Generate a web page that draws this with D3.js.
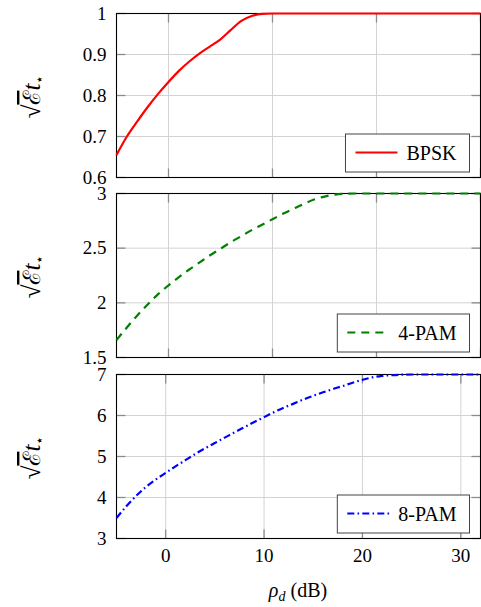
<!DOCTYPE html>
<html>
<head>
<meta charset="utf-8">
<script src="https://cdn.jsdelivr.net/npm/d3@7"></script>
<style>
  html, body { margin: 0; padding: 0; background: #fff; }
  svg { display: block; }
</style>
</head>
<body>
<svg id="chart" width="481" height="607"></svg>
<script>
// ---------------- data ----------------
const xTicks = [0, 10, 20, 30];

const bpskSnr   = [-5, -4, -3, -2, -1, 0, 1, 2, 3, 4, 5, 6, 7, 8, 9, 10, 30];
const bpskValue = [0.655, 0.70, 0.737, 0.772, 0.804, 0.833, 0.86, 0.883, 0.903, 0.92, 0.937, 0.96, 0.982, 0.994, 0.999, 1, 1];

const pam4Snr   = [-5, -4, -3, -2, -1, 0, 1, 2, 3, 4, 5, 6, 7, 8, 9, 10, 11, 12, 13, 14, 15, 16, 17, 18, 30];
const pam4Value = [1.66, 1.775, 1.885, 1.985, 2.08, 2.16, 2.235, 2.305, 2.37, 2.435, 2.495, 2.555, 2.61, 2.665, 2.715, 2.765, 2.815, 2.86, 2.905, 2.945, 2.972, 2.99, 2.998, 3, 3];

const pam8Snr   = [-5, -4, -3, -2, -1, 0, 1, 2, 3, 4, 5, 6, 7, 8, 9, 10, 11, 12, 13, 14, 15, 16, 17, 18, 19, 20, 21, 22, 23, 24, 25, 32];
const pam8Value = [3.50, 3.785, 4.04, 4.26, 4.44, 4.60, 4.76, 4.91, 5.06, 5.20, 5.33, 5.46, 5.59, 5.715, 5.84, 5.96, 6.08, 6.19, 6.29, 6.39, 6.48, 6.565, 6.645, 6.72, 6.80, 6.87, 6.93, 6.965, 6.985, 6.995, 7, 7];

const yTicks1 = [0.6, 0.7, 0.8, 0.9, 1];
const yTicks2 = [1.5, 2, 2.5, 3];
const yTicks3 = [3, 4, 5, 6, 7];

const yTickLabels1 = ["0.6", "0.7", "0.8", "0.9", "1"];
const yTickLabels2 = ["1.5", "2", "2.5", "3"];
const yTickLabels3 = ["3", "4", "5", "6", "7"];

const seriesNames = ["BPSK", "4-PAM", "8-PAM"];

// ---------------- layout ----------------
const svg = d3.select("#chart");
const FONT = '"Times New Roman"';
const left = 116.5, right = 480.5;

const panels = [
  { name: seriesNames[0], xs: bpskSnr, ys: bpskValue, xDomain: [-5, 30], yDomain: [0.6, 1],
    yTicks: yTicks1, yLabels: yTickLabels1, top: 13.5, bottom: 177.5,
    color: "#ff0000", dash: null, width: 2.2, showX: false },
  { name: seriesNames[1], xs: pam4Snr, ys: pam4Value, xDomain: [-5, 30], yDomain: [1.5, 3],
    yTicks: yTicks2, yLabels: yTickLabels2, top: 193.5, bottom: 357.5,
    color: "#008000", dash: "8,6", width: 2.2, showX: false },
  { name: seriesNames[2], xs: pam8Snr, ys: pam8Value, xDomain: [-5, 32], yDomain: [3, 7],
    yTicks: yTicks3, yLabels: yTickLabels3, top: 374.5, bottom: 538.5,
    color: "#0000ff", dash: "7,3.2,1.6,3.2", width: 2.2, showX: true }
];

panels.forEach(p => {
  const x = d3.scaleLinear().domain(p.xDomain).range([left, right]);
  const y = d3.scaleLinear().domain(p.yDomain).range([p.bottom, p.top]);
  const g = svg.append("g");

  // grid
  g.selectAll(".gx").data(xTicks.filter(t => t > p.xDomain[0] && t < p.xDomain[1]))
    .enter().append("line")
    .attr("x1", d => x(d)).attr("x2", d => x(d))
    .attr("y1", p.top).attr("y2", p.bottom)
    .attr("stroke", "#d3d3d3").attr("stroke-width", 1);
  g.selectAll(".gy").data(p.yTicks.filter(t => t > p.yDomain[0] && t < p.yDomain[1]))
    .enter().append("line")
    .attr("x1", left).attr("x2", right)
    .attr("y1", d => y(d)).attr("y2", d => y(d))
    .attr("stroke", "#d3d3d3").attr("stroke-width", 1);

  // inner ticks (both sides)
  const tl = 9;
  const xt = xTicks.filter(t => t >= p.xDomain[0] && t <= p.xDomain[1]);
  xt.forEach(t => {
    g.append("line").attr("x1", x(t)).attr("x2", x(t)).attr("y1", p.bottom).attr("y2", p.bottom - tl)
      .attr("stroke", "#8c8c8c").attr("stroke-width", 1.3);
    g.append("line").attr("x1", x(t)).attr("x2", x(t)).attr("y1", p.top).attr("y2", p.top + tl)
      .attr("stroke", "#8c8c8c").attr("stroke-width", 1.3);
  });
  p.yTicks.forEach(t => {
    g.append("line").attr("x1", left).attr("x2", left + tl).attr("y1", y(t)).attr("y2", y(t))
      .attr("stroke", "#8c8c8c").attr("stroke-width", 1.3);
    g.append("line").attr("x1", right).attr("x2", right - tl).attr("y1", y(t)).attr("y2", y(t))
      .attr("stroke", "#8c8c8c").attr("stroke-width", 1.3);
  });

  // frame
  g.append("rect").attr("x", left).attr("y", p.top)
    .attr("width", right - left).attr("height", p.bottom - p.top)
    .attr("fill", "none").attr("stroke", "#000").attr("stroke-width", 1.1);

  // y tick labels
  g.selectAll(".yl").data(p.yTicks).enter().append("text")
    .style("font-family", FONT)
    .attr("x", left - 10).attr("y", d => y(d))
    .attr("dy", "0.33em")
    .attr("text-anchor", "end")
    .attr("font-size", 19)
    .text((d, i) => p.yLabels[i]);

  // x tick labels
  if (p.showX) {
    g.selectAll(".xl").data(xTicks).enter().append("text")
      .style("font-family", FONT)
      .attr("x", d => x(d)).attr("y", p.bottom + 23)
      .attr("text-anchor", "middle")
      .attr("font-size", 19)
      .text(d => d);
  }

  // y axis label
  const cy = (p.top + p.bottom) / 2 + 1;
  const lab = g.append("text")
    .style("font-family", FONT)
    .attr("transform", `translate(40,${cy}) rotate(-90)`)
    .attr("text-anchor", "middle")
    .attr("font-size", 25);
  lab.append("tspan").text("√");
  lab.append("tspan").style("text-decoration", "overline").attr("font-size", 24).text("ℰ");
  lab.append("tspan").attr("font-style", "italic").text("t");
  lab.append("tspan").attr("font-size", 14).attr("dy", 4).text("⋆");

  // data line
  const pts = p.xs.map((v, i) => [v, p.ys[i]]);
  const line = d3.line().x(d => x(d[0])).y(d => y(d[1])).curve(d3.curveMonotoneX);
  g.append("path").datum(pts)
    .attr("d", line)
    .attr("fill", "none")
    .attr("stroke", p.color)
    .attr("stroke-width", p.width)
    .attr("stroke-dasharray", p.dash)
    .attr("stroke-linejoin", "round");

  // legend
  const lg = g.append("g");
  const ly = p.bottom - 24.5;
  const txt = lg.append("text").style("font-family", FONT)
    .attr("font-size", 20).attr("y", ly + 6.5).text(p.name);
  const tw = txt.node().getComputedTextLength();
  const boxRight = right - 11;
  const boxLeft = boxRight - (10 + 42 + 9 + tw + 13);
  const boxTop = p.bottom - 43.5, boxBottom = p.bottom - 5.5;
  lg.insert("rect", "text").attr("x", boxLeft).attr("y", boxTop)
    .attr("width", boxRight - boxLeft).attr("height", boxBottom - boxTop)
    .attr("fill", "#fff").attr("stroke", "#444").attr("stroke-width", 1);
  lg.append("line").attr("x1", boxLeft + 10).attr("x2", boxLeft + 52)
    .attr("y1", ly - 0.5).attr("y2", ly - 0.5)
    .attr("stroke", p.color).attr("stroke-width", p.width)
    .attr("stroke-dasharray", p.dash);
  txt.attr("x", boxLeft + 61);
  txt.raise();
});

// x axis label
const xl = svg.append("text")
  .style("font-family", FONT)
  .attr("x", 298).attr("y", 597)
  .attr("text-anchor", "middle")
  .attr("font-size", 20);
xl.append("tspan").attr("font-style", "italic").text("ρ");
xl.append("tspan").attr("font-style", "italic").attr("font-size", 14).attr("dy", 4).text("d");
xl.append("tspan").attr("dy", -4).text(" (dB)");
</script>
</body>
</html>
